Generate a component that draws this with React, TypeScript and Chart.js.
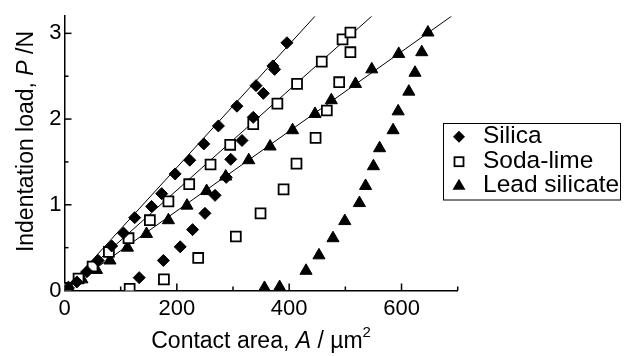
import React, { useEffect, useRef } from 'react';
import { Chart, registerables } from 'chart.js';

Chart.register(...registerables);

const FONT = '"Liberation Sans", Arial, Helvetica, sans-serif';

const seriesLabels = ['Silica', 'Soda-lime', 'Lead silicate'];

// Silica (filled diamonds)
const silicaLoadA = [7, 22, 40, 60, 84, 105, 125, 155, 173, 197, 223, 248, 274, 307, 341, 371, 396];
const silicaLoadP = [0.03, 0.1, 0.22, 0.35, 0.52, 0.67, 0.85, 0.98, 1.13, 1.36, 1.52, 1.71, 1.92, 2.15, 2.39, 2.62, 2.89];
const silicaUnloadA = [374, 354, 336, 316, 296, 288, 268, 250, 228, 206, 176, 133];
const silicaUnloadP = [2.58, 2.3, 2.02, 1.75, 1.53, 1.32, 1.11, 0.9, 0.71, 0.51, 0.35, 0.15];

// Soda-lime (open squares)
const sodaLoadA = [4, 25, 50, 79, 114, 152, 185, 222, 260, 295, 336, 379, 414, 458, 495, 509];
const sodaLoadP = [0.03, 0.14, 0.28, 0.45, 0.61, 0.82, 1.04, 1.24, 1.47, 1.7, 1.94, 2.18, 2.41, 2.67, 2.93, 3.01];
const sodaUnloadA = [509, 489, 467, 447, 413, 390, 349, 305, 238, 177, 116];
const sodaUnloadP = [2.78, 2.43, 2.1, 1.78, 1.48, 1.18, 0.9, 0.63, 0.38, 0.13, 0.02];

// Lead silicate (filled triangles)
const leadLoadA = [7, 31, 57, 81, 112, 146, 185, 218, 253, 287, 328, 366, 406, 446, 475, 518, 547, 595, 647];
const leadLoadP = [0.03, 0.13, 0.24, 0.35, 0.5, 0.66, 0.82, 0.99, 1.16, 1.33, 1.52, 1.68, 1.87, 2.06, 2.22, 2.41, 2.58, 2.76, 3.01];
const leadUnloadA = [636, 624, 613, 594, 585, 561, 550, 536, 525, 499, 478, 453, 430, 383, 356];
const leadUnloadP = [2.78, 2.54, 2.32, 2.09, 1.87, 1.66, 1.45, 1.22, 1.02, 0.81, 0.61, 0.41, 0.23, 0.04, 0.03];

// Linear fits of the loading branches
const silicaFitA = [0, 446];
const silicaFitP = [0, 3.2];
const sodaFitA = [0, 547];
const sodaFitP = [0, 3.2];
const leadFitA = [0, 689];
const leadFitP = [0, 3.2];

// Axis ticks
const xMajorTicks = [0, 200, 400, 600];
const xMinorTicks = [100, 300, 500, 700];
const yMajorTicks = [0, 1, 2, 3];
const yMinorTicks = [0.5, 1.5, 2.5];

const pts = (a: number[], p: number[]) => a.map((v, i) => ({ x: v, y: p[i] }));

type Seg = { t: string; italic?: boolean; sup?: boolean };

function drawRich(ctx: CanvasRenderingContext2D, segs: Seg[], cx: number, cy: number, size: number) {
  const fontOf = (s: Seg) => `${s.italic ? 'italic ' : ''}${s.sup ? Math.round(size * 0.65) : size}px ${FONT}`;
  let total = 0;
  const widths = segs.map((s) => {
    ctx.font = fontOf(s);
    const w = ctx.measureText(s.t).width;
    total += w;
    return w;
  });
  let x = cx - total / 2;
  ctx.textBaseline = 'middle';
  ctx.textAlign = 'left';
  segs.forEach((s, i) => {
    ctx.font = fontOf(s);
    ctx.fillText(s.t, x, s.sup ? cy - size * 0.4 : cy);
    x += widths[i];
  });
}

const decorPlugin = {
  id: 'decor',
  afterDraw(chart: any) {
    const { ctx, chartArea, scales } = chart;
    const xs = scales.x;
    const ys = scales.y;
    ctx.save();
    ctx.strokeStyle = '#000';
    ctx.fillStyle = '#000';
    ctx.lineWidth = 1.5;
    // inward ticks
    const tick = (x1: number, y1: number, x2: number, y2: number) => {
      ctx.beginPath();
      ctx.moveTo(x1, y1);
      ctx.lineTo(x2, y2);
      ctx.stroke();
    };
    xMajorTicks.forEach((v) => {
      if (v === 0) return;
      const px = xs.getPixelForValue(v);
      tick(px, chartArea.bottom, px, chartArea.bottom - 7);
    });
    xMinorTicks.forEach((v) => {
      const px = xs.getPixelForValue(v);
      tick(px, chartArea.bottom, px, chartArea.bottom - 4);
    });
    yMajorTicks.forEach((v) => {
      if (v === 0) return;
      const py = ys.getPixelForValue(v);
      tick(chartArea.left, py, chartArea.left + 7, py);
    });
    yMinorTicks.forEach((v) => {
      const py = ys.getPixelForValue(v);
      tick(chartArea.left, py, chartArea.left + 4, py);
    });

    // axis titles
    drawRich(
      ctx,
      [{ t: 'Contact area, ' }, { t: 'A', italic: true }, { t: ' / \u00b5m' }, { t: '2', sup: true }],
      (chartArea.left + chartArea.right) / 2,
      342,
      23
    );
    ctx.save();
    ctx.translate(27, 141.5);
    ctx.rotate(-Math.PI / 2);
    drawRich(ctx, [{ t: 'Indentation load, ' }, { t: 'P', italic: true }, { t: ' /N' }], 0, 0, 23);
    ctx.restore();

    // legend
    ctx.lineWidth = 1;
    ctx.strokeRect(443.5, 123.5, 177, 76.5);
    const rows = [136.7, 161.7, 185.3];
    const mx = 459;
    // diamond
    ctx.beginPath();
    ctx.moveTo(mx - 6, rows[0]);
    ctx.lineTo(mx, rows[0] - 6);
    ctx.lineTo(mx + 6, rows[0]);
    ctx.lineTo(mx, rows[0] + 6);
    ctx.closePath();
    ctx.fill();
    // square
    ctx.lineWidth = 1.8;
    ctx.fillStyle = '#fff';
    ctx.fillRect(mx - 4.5, rows[1] - 4.5, 9, 9);
    ctx.strokeRect(mx - 4.5, rows[1] - 4.5, 9, 9);
    ctx.fillStyle = '#000';
    // triangle
    ctx.beginPath();
    ctx.moveTo(mx, rows[2] - 6.5);
    ctx.lineTo(mx + 6.5, rows[2] + 4.5);
    ctx.lineTo(mx - 6.5, rows[2] + 4.5);
    ctx.closePath();
    ctx.fill();
    ctx.font = `24.5px ${FONT}`;
    ctx.textBaseline = 'middle';
    ctx.textAlign = 'left';
    chart.data.datasets
      .filter((d: any) => d.label)
      .forEach((d: any, i: number) => {
        ctx.fillText(d.label, 483, rows[i]);
      });
    ctx.restore();
  },
};

export default function App() {
  const ref = useRef<HTMLCanvasElement | null>(null);

  useEffect(() => {
    if (!ref.current) return;
    const fitLine = (a: number[], p: number[]) => ({
      label: '',
      data: pts(a, p),
      showLine: true,
      borderColor: '#000',
      borderWidth: 1,
      pointRadius: 0,
      fill: false,
    });
    const chart = new Chart(ref.current, {
      type: 'scatter',
      data: {
        datasets: [
          {
            label: seriesLabels[0],
            data: [...pts(silicaLoadA, silicaLoadP), ...pts(silicaUnloadA, silicaUnloadP)],
            pointStyle: 'rectRot',
            pointRadius: 6,
            backgroundColor: '#000',
            borderColor: '#000',
            borderWidth: 1,
          },
          {
            label: seriesLabels[1],
            data: [...pts(sodaLoadA, sodaLoadP), ...pts(sodaUnloadA, sodaUnloadP)],
            pointStyle: 'rect',
            pointRadius: 7,
            backgroundColor: '#fff',
            borderColor: '#000',
            borderWidth: 1.8,
          },
          {
            label: seriesLabels[2],
            data: [...pts(leadLoadA, leadLoadP), ...pts(leadUnloadA, leadUnloadP)],
            pointStyle: 'triangle',
            pointRadius: 7,
            backgroundColor: '#000',
            borderColor: '#000',
            borderWidth: 1,
          },
          fitLine(silicaFitA, silicaFitP),
          fitLine(sodaFitA, sodaFitP),
          fitLine(leadFitA, leadFitP),
        ] as any,
      },
      options: {
        animation: false,
        responsive: false,
        events: [],
        layout: { padding: { top: 12, right: 166.3, left: 0, bottom: 0 } },
        plugins: {
          legend: { display: false },
          tooltip: { enabled: false },
          title: { display: false },
        },
        scales: {
          x: {
            type: 'linear',
            min: 0,
            max: 700,
            grid: { display: false, drawTicks: false },
            border: { display: true, color: '#000', width: 1.5 },
            ticks: {
              stepSize: 200,
              includeBounds: false,
              color: '#000',
              padding: 5,
              maxRotation: 0,
              font: { family: FONT, size: 22 },
            },
            afterFit: (s: any) => {
              s.height = 65.5;
            },
          },
          y: {
            type: 'linear',
            min: 0,
            max: 3.2,
            grid: { display: false, drawTicks: false },
            border: { display: true, color: '#000', width: 1.5 },
            ticks: {
              stepSize: 1,
              includeBounds: false,
              color: '#000',
              padding: 3,
              font: { family: FONT, size: 22 },
            },
            afterFit: (s: any) => {
              s.width = 64.5;
            },
          },
        },
      } as any,
      plugins: [decorPlugin],
    });
    return () => chart.destroy();
  }, []);

  return (
    <div style={{ position: 'fixed', left: 0, top: 0, width: 624, height: 356, background: '#fff' }}>
      <canvas ref={ref} width={624} height={356} style={{ display: 'block' }} />
    </div>
  );
}
